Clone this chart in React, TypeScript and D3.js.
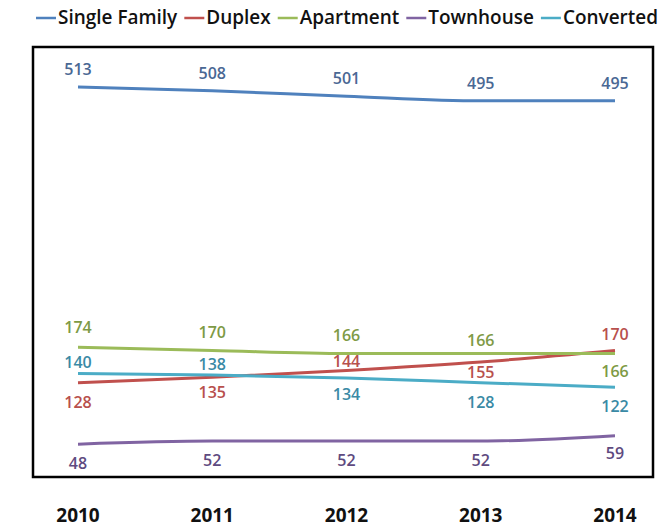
import React from "react";
import * as d3 from "d3";

const years = ["2010", "2011", "2012", "2013", "2014"];
const seriesNames = ["Single Family", "Duplex", "Apartment", "Townhouse", "Converted"];
const singleFamily = [513, 508, 501, 495, 495];
const duplex = [128, 135, 144, 155, 170];
const apartment = [174, 170, 166, 166, 166];
const townhouse = [48, 52, 52, 52, 59];
const converted = [140, 138, 134, 128, 122];

const lineColors = ["#4F81BD", "#C0504D", "#9BBB59", "#8064A2", "#4BACC6"];
const labelColors = ["#4A6894", "#B8504D", "#7E9A45", "#5E4A80", "#3A8AA5"];
// label placement offsets (baseline relative to point, px)
const labelOffsets = [
  [-12, -12, -12, -12, -12],
  [25, 21, -3, 16, -10],
  [-14, -12, -12, -7, 24],
  [25, 25, 25, 25, 23],
  [-5, -5, 22, 25, 25],
];

const W = 664;
const H = 529;
const FONT = "'Open Sans', sans-serif";

export default function App() {
  const data = [singleFamily, duplex, apartment, townhouse, converted];
  const x = d3.scalePoint<string>().domain(years).range([78, 615]);
  const y = d3.scaleLinear().domain([0, 565]).range([481, 47]);
  const line = d3
    .line<number>()
    .x((_, i) => x(years[i]) as number)
    .y((d) => y(d))
    .curve(d3.curveMonotoneX);

  // legend layout, fitted to span the reference width
  const swatch = 20;
  const pad = 2;
  const gap = 7;
  const legendLeft = 36;
  const legendRight = 658;
  let ctx: CanvasRenderingContext2D | null = null;
  if (typeof document !== "undefined") {
    ctx = document.createElement("canvas").getContext("2d");
  }
  const baseSize = 16;
  if (ctx) ctx.font = `600 ${baseSize}px 'Open Sans'`;
  const baseWidths = seriesNames.map((n) => (ctx ? ctx.measureText(n).width : n.length * 8.5));
  const fixed = seriesNames.length * (swatch + pad) + (seriesNames.length - 1) * gap;
  const avail = legendRight - legendLeft - fixed;
  const sumW = baseWidths.reduce((a, b) => a + b, 0);
  const legendSize = Math.min(19, (baseSize * avail) / sumW);
  const widths = baseWidths.map((w) => (w * legendSize) / baseSize);
  let cx = legendLeft;
  const legendItems = seriesNames.map((n, i) => {
    const item = { name: n, x: cx, color: lineColors[i] };
    cx += swatch + pad + widths[i] + gap;
    return item;
  });

  return (
    <svg width={W} height={H} style={{ position: "absolute", left: 0, top: 0, background: "#fff" }}>
      <rect x={0} y={0} width={W} height={H} fill="#fff" />
      {legendItems.map((it) => (
        <g key={it.name}>
          <line x1={it.x} x2={it.x + swatch} y1={18} y2={18} stroke={it.color} strokeWidth={2.5} />
          <text x={it.x + swatch + pad} y={24} fontFamily={FONT} fontWeight={600} fontSize={legendSize} fill="#111">
            {it.name}
          </text>
        </g>
      ))}
      <rect x={33} y={47} width={620} height={430} fill="none" stroke="#000" strokeWidth={2.5} />
      {data.map((s, si) => (
        <path key={si} d={line(s) || ""} fill="none" stroke={lineColors[si]} strokeWidth={3} />
      ))}
      {data.map((s, si) =>
        s.map((v, i) => (
          <text
            key={`${si}-${i}`}
            x={x(years[i]) as number}
            y={y(v) + labelOffsets[si][i]}
            textAnchor="middle"
            fontFamily={FONT}
            fontWeight={600}
            fontSize={16}
            fill={labelColors[si]}
          >
            {v}
          </text>
        ))
      )}
      {years.map((yr) => (
        <text
          key={yr}
          x={x(yr) as number}
          y={522}
          textAnchor="middle"
          fontFamily={FONT}
          fontWeight={700}
          fontSize={19}
          fill="#111"
        >
          {yr}
        </text>
      ))}
    </svg>
  );
}
